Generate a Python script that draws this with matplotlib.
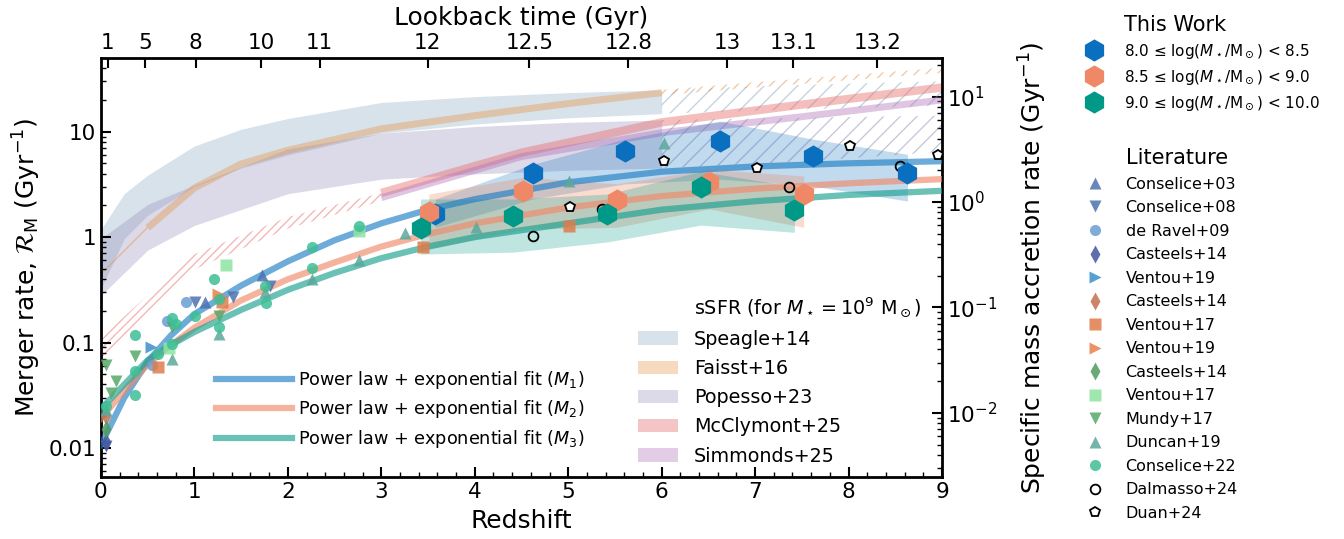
import numpy as np
import matplotlib.pyplot as plt
from matplotlib import ticker
from matplotlib.lines import Line2D
from matplotlib.patches import Patch

# ---------------- This Work: merger rate (Gyr^-1) ----------------
z_m1 = [3.58, 4.62, 5.61, 6.62, 7.62, 8.63]
r_m1 = [1.65, 4.05, 6.56, 8.2, 5.9, 4.1]
lo_m1 = [1.24, 2.3, 3.2, 3.55, 3.05, 2.2]
hi_m1 = [2.3, 4.9, 8.5, 12.6, 8.5, 6.1]

z_m2 = [3.51, 4.52, 5.52, 6.51, 7.52]
r_m2 = [1.74, 2.75, 2.25, 3.35, 2.56]
lo_m2 = [0.77, 1.19, 1.24, 1.85, 1.24]
hi_m2 = [2.56, 3.7, 3.2, 4.4, 3.8]

z_m3 = [3.42, 4.41, 5.42, 6.42, 7.42]
r_m3 = [1.21, 1.57, 1.65, 2.96, 1.82]
lo_m3 = [0.69, 0.72, 0.90, 1.30, 1.11]
hi_m3 = [2.3, 2.3, 2.56, 4.2, 3.0]

# power law + exponential fits
fit_z = [0, 0.25, 0.5, 0.75, 1, 1.5, 2, 2.5, 3, 3.5, 4, 5, 6, 7, 8, 9]
fit_m1 = [0.0107, 0.030, 0.066, 0.117, 0.186, 0.347, 0.589, 0.933, 1.35, 1.82, 2.29, 3.31, 4.17, 4.68, 5.01, 5.25]
fit_m2 = [0.019, 0.035, 0.062, 0.095, 0.138, 0.251, 0.398, 0.575, 0.813, 1.07, 1.35, 1.91, 2.45, 2.88, 3.24, 3.55]
fit_m3 = [0.0234, 0.040, 0.068, 0.095, 0.126, 0.204, 0.316, 0.457, 0.631, 0.813, 1.0, 1.35, 1.82, 2.19, 2.51, 2.75]

# ---------------- Literature merger rates ----------------
con03_z, con03_r = [1.11, 1.72], [0.243, 0.44]
con08_z, con08_r = [0.05, 1.01, 1.41, 1.81], [0.0104, 0.243, 0.27, 0.34]
derav_z, derav_r = [0.55, 0.71, 0.91], [0.061, 0.16, 0.24]
cas_b_z, cas_b_r = [0.05], [0.0115]
ven19_b_z, ven19_b_r = [0.54], [0.09]
cas_o_z, cas_o_r = [0.05], [0.020]
ven17_o_z, ven17_o_r = [0.61, 1.30, 3.45, 5.01], [0.058, 0.24, 0.80, 1.28]
ven19_o_z, ven19_o_r = [1.25], [0.29]
cas_g_z, cas_g_r = [0.05], [0.015]
ven17_g_z, ven17_g_r = [0.73, 1.34, 2.76], [0.089, 0.54, 1.15]
mundy_z = [0.05, 0.11, 0.16, 0.36, 0.76, 1.26]
mundy_r = [0.061, 0.033, 0.043, 0.074, 0.14, 0.18]
duncan_z = [0.05, 0.76, 1.26, 1.76, 2.26, 2.76, 3.25, 4.01, 5.01, 6.02]
duncan_r = [0.023, 0.07, 0.12, 0.30, 0.40, 0.60, 1.09, 1.25, 3.42, 7.8]
con22_z = [0.05, 0.36, 0.36, 0.36, 0.61, 0.76, 0.76, 0.80, 1.01, 1.21, 1.26, 1.26,
           1.76, 1.77, 2.26, 2.26, 2.76]
con22_r = [0.025, 0.117, 0.054, 0.032, 0.077, 0.17, 0.096, 0.149, 0.18, 0.40, 0.26, 0.14,
           0.345, 0.236, 0.81, 0.51, 1.28]
dal_z, dal_r = [4.62, 5.36, 7.36, 8.55], [1.02, 1.85, 2.98, 4.75]
duan_z, duan_r = [5.02, 6.02, 7.02, 8.02, 8.96], [1.94, 5.3, 4.5, 7.3, 6.0]

# ---------------- sSFR (Gyr^-1, right axis) ----------------
spe_z = [0, 0.25, 0.5, 1.0, 1.5, 2.0, 3.0, 4.0, 5.0, 6.0]
spe_hi = [0.55, 1.2, 1.8, 3.4, 4.9, 6.2, 8.8, 10.0, 10.9, 11.6]
spe_lo = [0.15, 0.45, 0.75, 1.4, 2.1, 2.8, 4.5, 5.5, 6.3, 6.9]
spe_x_z = [6, 7, 8, 9]
spe_x_hi = [11.6, 12.5, 13.3, 14.0]
spe_x_lo = [6.9, 7.3, 7.8, 8.2]

pop_z = [0, 0.5, 1.0, 2.0, 3.0, 4.0, 5.0, 6.0]
pop_hi = [0.45, 0.95, 1.45, 3.2, 4.5, 5.2, 5.7, 6.0]
pop_lo = [0.13, 0.35, 0.6, 1.2, 1.65, 1.85, 2.0, 2.1]
pop_x_z = [6, 7, 8, 9]
pop_x_hi = [6.0, 6.2, 6.4, 6.6]
pop_x_lo = [2.1, 2.3, 2.6, 3.0]

fai_z = [0.5, 1.0, 1.5, 2.0, 3.0, 4.0, 5.0, 6.0]
fai_s = [0.57, 1.36, 2.3, 3.1, 4.95, 6.6, 8.6, 10.9]
fai_lz = [0, 0.25, 0.5]
fai_lz_lo = [0.19, 0.32, 0.52]
fai_lz_hi = [0.24, 0.38, 0.62]
fai_hz = [6, 7, 8, 9]
fai_hz_lo = [10.3, 12.2, 14.3, 16.8]
fai_hz_hi = [11.6, 13.7, 16.0, 18.8]

mcc_z = [3.0, 4.5, 6.0, 7.5, 9.0]
mcc_s = [1.22, 2.94, 5.7, 8.4, 12.2]
mcc_lz = [0.0, 0.5, 1.0, 2.0, 3.0]
mcc_lz_lo = [0.032, 0.09, 0.23, 0.56, 1.02]
mcc_lz_hi = [0.052, 0.13, 0.32, 0.72, 1.22]

sim_z = [3.0, 4.5, 6.0, 7.5, 9.0]
sim_s = [1.1, 2.7, 4.55, 6.45, 9.3]

lookback_ticks = [1, 5, 8, 10, 11, 12, 12.5, 12.8, 13, 13.1, 13.2]
ssfr_ticks = [1e-2, 1e-1, 1, 10]

# right axis = K * left axis
K = 0.465

# colours
C1, C2, C3 = '#0a6fbf', '#ee8866', '#009988'
F1, F2, F3 = '#1f7fc4', '#f08a6a', '#1aa090'
C_SPE, C_FAI, C_POP, C_MCC, C_SIM = '#7f9fbf', '#e6964a', '#8c84b4', '#e8706e', '#b070b8'

plt.rcParams['font.family'] = ['DejaVu Sans']
plt.rcParams['mathtext.fontset'] = 'dejavusans'


def lookback_to_z(tl_vals):
    # flat LCDM (Planck18-like)
    H0, Om = 67.66, 0.30966
    zg = np.linspace(0, 40, 40001)
    f = 1.0 / ((1 + zg) * np.sqrt(Om * (1 + zg) ** 3 + 1 - Om))
    tl = 977.8 / H0 * np.concatenate([[0], np.cumsum(0.5 * (f[1:] + f[:-1]) * np.diff(zg))])
    return np.interp(tl_vals, tl, zg)


def s2m(v):
    return np.asarray(v) / K


fig, ax = plt.subplots(figsize=(13.44, 5.39), dpi=100)
fig.subplots_adjust(left=0.0751, right=0.7009, bottom=0.115, top=0.8924)

# sSFR bands
ax.fill_between(spe_z, s2m(spe_lo), s2m(spe_hi), color=C_SPE, alpha=0.3, lw=0, zorder=1)
ax.fill_between(pop_z, s2m(pop_lo), s2m(pop_hi), color=C_POP, alpha=0.3, lw=0, zorder=1)
ax.fill_between(spe_x_z, s2m(spe_x_lo), s2m(spe_x_hi), facecolor='none', edgecolor=C_SPE,
                hatch='//', lw=0, alpha=0.45, zorder=1)
ax.fill_between(pop_x_z, s2m(pop_x_lo), s2m(pop_x_hi), facecolor='none', edgecolor=C_POP,
                hatch='//', lw=0, alpha=0.45, zorder=1)
ax.fill_between(fai_lz, s2m(fai_lz_lo), s2m(fai_lz_hi), facecolor='none', edgecolor=C_FAI,
                hatch='////', lw=0, alpha=0.5, zorder=1)
ax.fill_between(fai_hz, s2m(fai_hz_lo), s2m(fai_hz_hi), facecolor='none', edgecolor=C_FAI,
                hatch='///', lw=0, alpha=0.5, zorder=1)
ax.fill_between(mcc_lz, s2m(mcc_lz_lo), s2m(mcc_lz_hi), facecolor='none', edgecolor=C_MCC,
                hatch='////', lw=0, alpha=0.5, zorder=1)
ax.plot(fai_z, s2m(fai_s), color=C_FAI, lw=5, alpha=0.4, solid_capstyle='butt', zorder=2)
ax.plot(mcc_z, s2m(mcc_s), color=C_MCC, lw=6, alpha=0.45, solid_capstyle='butt', zorder=2)
ax.plot(sim_z, s2m(sim_s), color=C_SIM, lw=5, alpha=0.4, solid_capstyle='butt', zorder=2)

# This Work uncertainty bands
ax.fill_between(z_m1, lo_m1, hi_m1, color=C1, alpha=0.25, lw=0, zorder=2.5)
ax.fill_between(z_m2, lo_m2, hi_m2, color=C2, alpha=0.3, lw=0, zorder=2.5)
ax.fill_between(z_m3, lo_m3, hi_m3, color=C3, alpha=0.25, lw=0, zorder=2.5)

# fits
ax.plot(fit_z, fit_m1, color=F1, lw=4.5, alpha=0.65, zorder=3)
ax.plot(fit_z, fit_m2, color=F2, lw=4.5, alpha=0.65, zorder=3)
ax.plot(fit_z, fit_m3, color=F3, lw=4.5, alpha=0.65, zorder=3)

# literature
lit = [
    (con03_z, con03_r, '^', '#4c72b0', 'Conselice+03'),
    (con08_z, con08_r, 'v', '#4c72b0', 'Conselice+08'),
    (derav_z, derav_r, 'o', '#6a9ed4', 'de Ravel+09'),
    (cas_b_z, cas_b_r, 'd', '#4455a0', 'Casteels+14'),
    (ven19_b_z, ven19_b_r, '>', '#3a8fc9', 'Ventou+19'),
    (cas_o_z, cas_o_r, 'd', '#c4704f', 'Casteels+14'),
    (ven17_o_z, ven17_o_r, 's', '#e07b4a', 'Ventou+17'),
    (ven19_o_z, ven19_o_r, '>', '#e8804a', 'Ventou+19'),
    (cas_g_z, cas_g_r, 'd', '#4f9a5f', 'Casteels+14'),
    (ven17_g_z, ven17_g_r, 's', '#8de5a1', 'Ventou+17'),
    (mundy_z, mundy_r, 'v', '#55a868', 'Mundy+17'),
    (duncan_z, duncan_r, '^', '#5aa89a', 'Duncan+19'),
    (con22_z, con22_r, 'o', '#3dbf95', 'Conselice+22'),
]
lit_handles = []
for zz, rr, mk, col, lab in lit:
    ms = 9 if mk == 'd' else 8
    ax.plot(zz, rr, ls='none', marker=mk, ms=ms, color=col, mec='none', alpha=0.85, zorder=4)
    lit_handles.append(Line2D([], [], ls='none', marker=mk, ms=ms, color=col, mec='none',
                              alpha=0.85, label=lab))
ax.plot(dal_z, dal_r, ls='none', marker='o', ms=7, mfc='none', mec='black', mew=1.3, zorder=4)
ax.plot(duan_z, duan_r, ls='none', marker='p', ms=7.5, mfc='white', mec='black', mew=1.3, zorder=4)
lit_handles.append(Line2D([], [], ls='none', marker='o', ms=7, mfc='none', mec='black',
                          mew=1.3, label='Dalmasso+24'))
lit_handles.append(Line2D([], [], ls='none', marker='p', ms=7.5, mfc='white', mec='black',
                          mew=1.3, label='Duan+24'))

# This Work points
ax.plot(z_m1, r_m1, ls='none', marker='h', ms=16, color=C1, mec='none', zorder=5)
ax.plot(z_m2, r_m2, ls='none', marker='h', ms=16, color=C2, mec='none', zorder=5)
ax.plot(z_m3, r_m3, ls='none', marker='h', ms=16, color=C3, mec='none', zorder=5)

# axes
ax.set_yscale('log')
ax.set_xlim(0, 9)
ax.set_ylim(0.0053, 50)
ax.xaxis.set_major_locator(ticker.MultipleLocator(1))
ax.xaxis.set_minor_locator(ticker.MultipleLocator(0.2))
ax.yaxis.set_major_formatter(ticker.FuncFormatter(lambda v, p: f'{v:g}'))
ax.yaxis.set_minor_formatter(ticker.NullFormatter())
ax.tick_params(which='both', direction='in', top=False, right=False, labelsize=15.5)
ax.tick_params(which='major', length=7, width=1.5)
ax.tick_params(which='minor', length=3.5, width=1)
for sp in ax.spines.values():
    sp.set_linewidth(2)
ax.set_xlabel('Redshift', fontsize=18, labelpad=5)
ax.set_ylabel(r'Merger rate, $\mathcal{R}_\mathrm{M}$ (Gyr$^{-1}$)', fontsize=18)

secx = ax.secondary_xaxis('top')
secx.set_xticks(lookback_to_z(lookback_ticks), [f'{t:g}' for t in lookback_ticks])
secx.xaxis.set_minor_locator(ticker.NullLocator())
secx.tick_params(direction='in', length=7, width=1.5, labelsize=15.5)
secx.set_xlabel('Lookback time (Gyr)', fontsize=18, labelpad=5.5)

secy = ax.secondary_yaxis('right', functions=(lambda v: v * K, lambda v: v / K))
secy.set_yticks(ssfr_ticks)
secy.yaxis.set_major_formatter(ticker.LogFormatterSciNotation())
secy.tick_params(which='both', direction='in', labelsize=15.5)
secy.tick_params(which='major', length=7, width=1.5)
secy.tick_params(which='minor', length=3.5, width=1)
secy.set_ylabel('Specific mass accretion rate (Gyr$^{-1}$)', fontsize=18, labelpad=14)

# legends
fit_handles = [Line2D([], [], color=F1, lw=4.5, alpha=0.65),
               Line2D([], [], color=F2, lw=4.5, alpha=0.65),
               Line2D([], [], color=F3, lw=4.5, alpha=0.65)]
fit_labels = [r'Power law + exponential fit ($M_1$)',
              r'Power law + exponential fit ($M_2$)',
              r'Power law + exponential fit ($M_3$)']
leg_fit = ax.legend(fit_handles, fit_labels, loc='upper left', bbox_to_anchor=(0.1177, 0.296),
                    frameon=False, fontsize=12.7, handlelength=4.3, handletextpad=0.35,
                    labelspacing=0.42)
ax.add_artist(leg_fit)

blank = Patch(facecolor='none', edgecolor='none')
ssfr_handles = [blank,
                Patch(facecolor=C_SPE, alpha=0.3, lw=0),
                Patch(facecolor=C_FAI, alpha=0.35, lw=0),
                Patch(facecolor=C_POP, alpha=0.3, lw=0),
                Patch(facecolor=C_MCC, alpha=0.4, lw=0),
                Patch(facecolor=C_SIM, alpha=0.35, lw=0)]
ssfr_labels = [r'sSFR (for $M_\star=10^9\ \mathrm{M}_\odot$)', 'Speagle+14', 'Faisst+16',
               'Popesso+23', 'McClymont+25', 'Simmonds+25']
ax.legend(ssfr_handles, ssfr_labels, loc='upper left', bbox_to_anchor=(0.618, 0.474),
          frameon=False, fontsize=13.8, handlelength=2.08, handletextpad=0.85,
          labelspacing=0.53)

tw_handles = [Line2D([], [], ls='none'),
              Line2D([], [], ls='none', marker='h', ms=16, color=C1, mec='none'),
              Line2D([], [], ls='none', marker='h', ms=16, color=C2, mec='none'),
              Line2D([], [], ls='none', marker='h', ms=16, color=C3, mec='none')]
tw_labels = ['This Work',
             r'8.0 ≤ log($M_\star$/M$_\odot$) < 8.5',
             r'8.5 ≤ log($M_\star$/M$_\odot$) < 9.0',
             r'9.0 ≤ log($M_\star$/M$_\odot$) < 10.0']
leg_tw = fig.legend(tw_handles, tw_labels, loc='upper left', bbox_to_anchor=(0.7923, 0.998),
                    frameon=False, fontsize=11, labelspacing=0.48, handletextpad=1.0)
leg_tw.get_texts()[0].set_fontsize(15)

lit_all = [Line2D([], [], ls='none')] + lit_handles
lit_labels = ['Literature'] + [h.get_label() for h in lit_handles]
leg_lit = fig.legend(lit_all, lit_labels, loc='upper left', bbox_to_anchor=(0.7923, 0.752),
                     frameon=False, fontsize=11.5, labelspacing=0.533, handletextpad=0.9)
leg_lit.get_texts()[0].set_fontsize(15)

fig.savefig('out.png', dpi=100)
